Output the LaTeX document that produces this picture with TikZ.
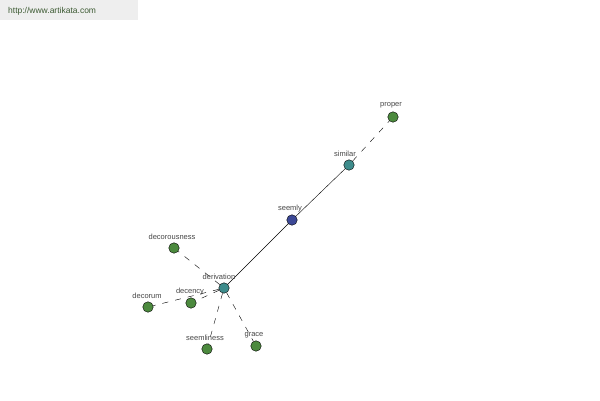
\documentclass[tikz,border=0pt]{standalone}
\usepackage{fontspec}
\setmainfont{Liberation Sans}
\definecolor{bandgray}{RGB}{238,238,238}
\definecolor{urlcol}{RGB}{60,90,50}
\definecolor{labelcol}{RGB}{70,70,70}
\definecolor{dotblue}{RGB}{60,72,150}
\definecolor{dotteal}{RGB}{62,140,140}
\definecolor{dotgreen}{RGB}{76,138,62}
\begin{document}
\begin{tikzpicture}[x=1pt,y=-1pt,
  dot/.style={circle,draw=black,line width=0.4pt,minimum size=10.5pt,inner sep=0pt},
  blue dot/.style={dot,fill=dotblue},
  teal dot/.style={dot,fill=dotteal},
  green dot/.style={dot,fill=dotgreen},
  lbl/.style={font=\fontsize{7.5}{8}\selectfont,text=labelcol,inner sep=0pt},
  solidlink/.style={draw=black,line width=0.4pt},
  dashlink/.style={draw=black,line width=0.4pt,dash pattern=on 6pt off 7pt}]
\useasboundingbox (0,0) rectangle (600,400);
\fill[white] (0,0) rectangle (600,400);
\fill[bandgray] (0,0) rectangle (138,20);
\node[font=\fontsize{8.5}{9}\selectfont,text=urlcol,anchor=west,inner sep=0pt] (url) at (8,11) {http://www.artikata.com};
% nodes
\node[green dot] (proper) at (393,117) {};
\node[teal dot] (similar) at (349,165) {};
\node[blue dot] (seemly) at (292,220) {};
\node[teal dot] (derivation) at (224,288) {};
\node[green dot] (decorousness) at (174,248) {};
\node[green dot] (decency) at (191,303) {};
\node[green dot] (decorum) at (148,307) {};
\node[green dot] (seemliness) at (207,349) {};
\node[green dot] (grace) at (256,346) {};
% links
\draw[solidlink] (seemly) -- (similar);
\draw[solidlink] (seemly) -- (derivation);
\draw[dashlink] (similar) -- (proper);
\draw[dashlink] (derivation) -- (decorousness);
\draw[dashlink] (derivation) -- (decency);
\draw[dashlink] (derivation) -- (decorum);
\draw[dashlink] (derivation) -- (seemliness);
\draw[dashlink] (derivation) -- (grace);
% labels
\node[lbl] (lproper) at (391,105) {proper};
\node[lbl] (lsimilar) at (345,154) {similar};
\node[lbl] (lseemly) at (290,209) {seemly};
\node[lbl] (lderivation) at (219,277) {derivation};
\node[lbl] (ldecorousness) at (172,237) {decorousness};
\node[lbl] (ldecency) at (190,292) {decency};
\node[lbl] (ldecorum) at (147,296) {decorum};
\node[lbl] (lseemliness) at (205,338) {seemliness};
\node[lbl] (lgrace) at (254,335) {grace};
\end{tikzpicture}
\end{document}
